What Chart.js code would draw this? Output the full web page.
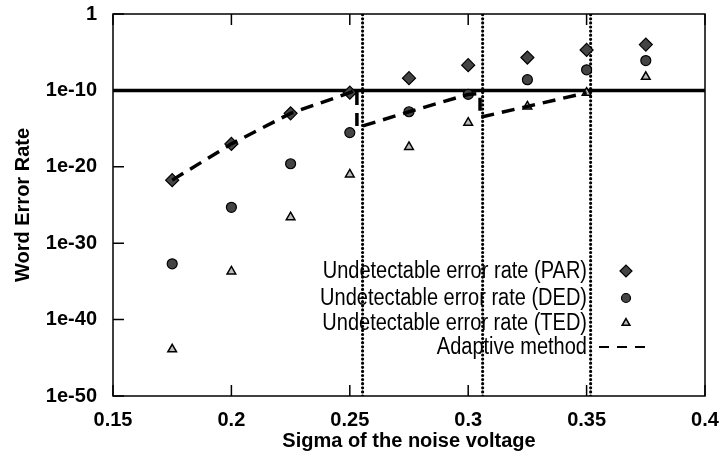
<!DOCTYPE html>
<html>
<head>
<meta charset="utf-8">
<script src="https://cdn.jsdelivr.net/npm/chart.js@4.4.1/dist/chart.umd.min.js"></script>
<style>
  html, body { margin: 0; padding: 0; background: #fff; }
  #wrap { width: 720px; height: 460px; }
</style>
</head>
<body>
<div id="wrap"><canvas id="errChart" width="720" height="460"></canvas></div>
<script>
// noise sigma values where the rates were computed
const sigma = [0.175, 0.2, 0.225, 0.25, 0.275, 0.3, 0.325, 0.35, 0.375];

// undetectable word error rates per code
const parRate = [1.8e-22, 1e-17, 1e-13, 5e-11, 4e-9, 2e-7, 2e-6, 2e-5, 1e-4];
const dedRate = [2e-33, 5e-26, 2.5e-20, 3e-16, 1.6e-13, 3e-11, 2.5e-9, 5e-8, 8e-7];
const tedRate = [1.3e-44, 2e-34, 2.5e-27, 1e-21, 4e-18, 6e-15, 8e-13, 5e-11, 6e-9];

// adaptive scheme: switches code at each threshold crossing
const adaptiveSigma = [0.175, 0.2, 0.225, 0.25, 0.253, 0.253, 0.275, 0.3, 0.305, 0.305, 0.325, 0.35];
const adaptiveRate = [1.8e-22, 1e-17, 1e-13, 5e-11, 1.6e-10, 1.3e-15, 1.6e-13, 3e-11, 4e-11, 3e-14, 8e-13, 5e-11];

const targetRate = 1e-10;
const switchSigma = [0.2554, 0.3061, 0.3517];

const xTicks = [0.15, 0.2, 0.25, 0.3, 0.35, 0.4];
const yTicks = [1e-50, 1e-40, 1e-30, 1e-20, 1e-10, 1];

const legendLabels = [
  'Undetectable error rate (PAR)',
  'Undetectable error rate (DED)',
  'Undetectable error rate (TED)',
  'Adaptive method'
];

const pts = (xs, ys) => xs.map((x, i) => ({ x: x, y: ys[i] }));

const markerPAR = { pointStyle: 'rectRot', radius: 6.5, backgroundColor: '#444', borderColor: '#000', borderWidth: 1.2 };
const markerDED = { pointStyle: 'circle', radius: 5, backgroundColor: '#444', borderColor: '#000', borderWidth: 1.2 };
const markerTED = { pointStyle: 'triangle', radius: 5, backgroundColor: '#bbb', borderColor: '#000', borderWidth: 1.5 };

function markerSet(m) {
  return {
    type: 'scatter', showLine: false,
    pointStyle: m.pointStyle, pointRadius: m.radius,
    pointBackgroundColor: m.backgroundColor, pointBorderColor: m.borderColor,
    pointBorderWidth: m.borderWidth, order: 1
  };
}

const datasets = [
  Object.assign({ label: legendLabels[0], data: pts(sigma, parRate) }, markerSet(markerPAR)),
  Object.assign({ label: legendLabels[1], data: pts(sigma, dedRate) }, markerSet(markerDED)),
  Object.assign({ label: legendLabels[2], data: pts(sigma, tedRate) }, markerSet(markerTED)),
  {
    label: legendLabels[3], type: 'line', data: pts(adaptiveSigma, adaptiveRate),
    borderColor: '#000', borderWidth: 3.5, borderDash: [13, 8], pointRadius: 0,
    tension: 0, order: 0
  },
  {
    label: 'target', type: 'line', data: [{ x: 0.15, y: targetRate }, { x: 0.4, y: targetRate }],
    borderColor: '#000', borderWidth: 3.5, pointRadius: 0, order: 2
  }
];

switchSigma.forEach(s => {
  datasets.push({
    label: 'switch', type: 'line', data: [{ x: s, y: 1e-50 }, { x: s, y: 1 }],
    borderColor: '#000', borderWidth: 3.2, borderDash: [0, 4.1], borderCapStyle: 'round',
    pointRadius: 0, order: 3
  });
});

const sans = '"Liberation Sans", Arial, sans-serif';

// frame, inward ticks on left/bottom/top, and the key inside the plot
const framePlugin = {
  id: 'frame',
  afterDatasetsDraw(chart) {
    const { ctx, chartArea: a, scales: { x, y } } = chart;
    ctx.save();
    ctx.strokeStyle = '#000';
    ctx.lineWidth = 1.5;
    ctx.strokeRect(a.left, a.top, a.right - a.left, a.bottom - a.top);
    const tl = 11;
    ctx.beginPath();
    xTicks.forEach(v => {
      const px = x.getPixelForValue(v);
      ctx.moveTo(px, a.bottom); ctx.lineTo(px, a.bottom - tl);
      ctx.moveTo(px, a.top); ctx.lineTo(px, a.top + tl);
    });
    yTicks.forEach(v => {
      const py = y.getPixelForValue(v);
      ctx.moveTo(a.left, py); ctx.lineTo(a.left + tl, py);
    });
    ctx.stroke();

    // key: condensed labels, right-aligned, with samples on the right
    const textRight = a.right - 118;
    const sampleX = a.right - 79;
    const rows = [a.top + 257, a.top + 284, a.top + 309, a.top + 333];
    ctx.font = '23px ' + sans;
    ctx.fillStyle = '#000';
    ctx.textAlign = 'right';
    ctx.textBaseline = 'middle';
    legendLabels.forEach((t, i) => {
      ctx.save();
      ctx.translate(textRight, rows[i] + 1);
      ctx.scale(0.87, 1);
      ctx.fillText(t, 0, 0);
      ctx.restore();
    });
    [markerPAR, markerDED, markerTED].forEach((m, i) => {
      ctx.fillStyle = m.backgroundColor;
      ctx.strokeStyle = m.borderColor;
      ctx.lineWidth = m.borderWidth;
      Chart.helpers.drawPoint(ctx, { pointStyle: m.pointStyle, radius: m.radius - 0.5, rotation: 0, borderWidth: m.borderWidth }, sampleX, rows[i]);
    });
    ctx.strokeStyle = '#000';
    ctx.lineWidth = 2;
    ctx.setLineDash([10, 8]);
    ctx.beginPath();
    ctx.moveTo(sampleX - 27, rows[3]);
    ctx.lineTo(sampleX + 22, rows[3]);
    ctx.stroke();
    ctx.restore();
  }
};

const tickFont = { family: sans, size: 20, weight: 'bold' };

new Chart(document.getElementById('errChart'), {
  type: 'scatter',
  data: { datasets: datasets },
  options: {
    responsive: false,
    animation: false,
    layout: { padding: { left: 0, top: 14, right: 15, bottom: 0 } },
    plugins: { legend: { display: false }, tooltip: { enabled: false } },
    scales: {
      x: {
        type: 'linear', min: 0.15, max: 0.4,
        afterFit: s => { s.height = 64; s.paddingLeft = 0; s.paddingRight = 0; },
        afterBuildTicks: s => { s.ticks = xTicks.map(v => ({ value: v })); },
        grid: { display: false, drawTicks: false },
        border: { display: false },
        ticks: {
          color: '#000', font: tickFont, padding: 12, maxRotation: 0,
          callback: v => String(Number(v.toFixed(2)))
        },
        title: {
          display: true, text: 'Sigma of the noise voltage', color: '#000',
          font: tickFont, padding: { top: 0, bottom: 7 }
        }
      },
      y: {
        type: 'logarithmic', min: 1e-50, max: 1,
        afterFit: s => { s.width = 113; s.paddingTop = 0; s.paddingBottom = 0; },
        afterBuildTicks: s => { s.ticks = yTicks.map(v => ({ value: v })); },
        grid: { display: false, drawTicks: false },
        border: { display: false },
        ticks: {
          color: '#000', font: tickFont, padding: 16,
          callback: v => v === 1 ? '1' : '1e' + Math.round(Math.log10(v))
        },
        title: {
          display: true, text: 'Word Error Rate', color: '#000',
          font: tickFont, padding: { top: 11, bottom: 0 }
        }
      }
    }
  },
  plugins: [framePlugin]
});
</script>
</body>
</html>
